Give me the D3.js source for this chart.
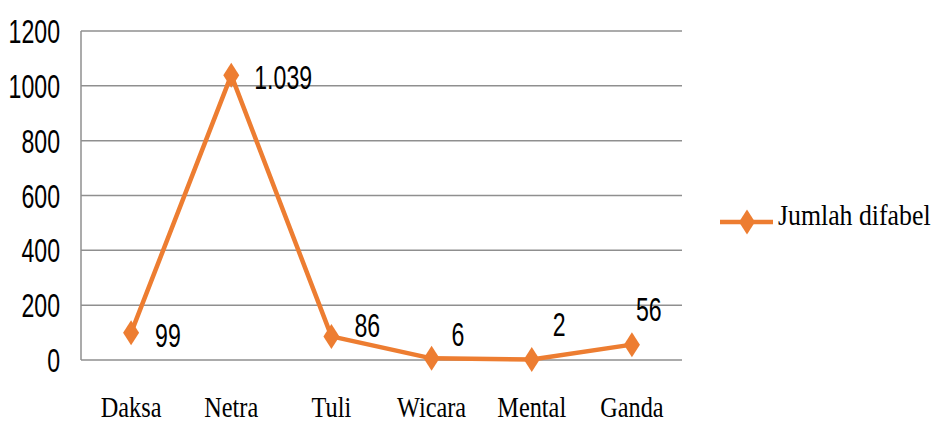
<!DOCTYPE html>
<html>
<head>
<meta charset="utf-8">
<script src="https://cdn.jsdelivr.net/npm/d3@7"></script>
<style>
  body { margin: 0; background: #fff; }
  svg { display: block; }
</style>
</head>
<body>
<script>
// data
let categories = ['Daksa', 'Netra', 'Tuli', 'Wicara', 'Mental', 'Ganda'];
let jumlahDifabel = [99, 1039, 86, 6, 2, 56];
let yTicks = [0, 200, 400, 600, 800, 1000, 1200];
let seriesName = 'Jumlah difabel';

// label nudges (dx, dy from the point), as placed by hand in the original
let labelNudge = [[24, 14], [23, 14], [23, 1], [20, -12], [21, -23], [4, -24]];

let frame = { width: 933, height: 423 };
let plot = { left: 81, right: 682, top: 31, bottom: 360 };
let orange = '#ED7D31';
let gridColor = '#8f8f8f';

let svg = d3.select('body')
	.append('svg')
	.attr('width', frame.width)
	.attr('height', frame.height);

let xScale = d3.scaleBand()
	.domain(categories)
	.range([plot.left, plot.right]);

let yScale = d3.scaleLinear()
	.domain([0, 1200])
	.range([plot.bottom, plot.top]);

let idFormat = d3.formatLocale({ decimal: ',', thousands: '.', grouping: [3], currency: ['Rp', ''] }).format(',');

// gridlines
svg.append('g')
	.selectAll('line')
	.data(yTicks)
	.enter()
	.append('line')
	.attr('x1', plot.left)
	.attr('x2', plot.right)
	.attr('y1', d => yScale(d))
	.attr('y2', d => yScale(d))
	.attr('stroke', gridColor)
	.attr('stroke-width', 1.5);

// left axis line
svg.append('line')
	.attr('x1', plot.left)
	.attr('x2', plot.left)
	.attr('y1', yScale(1200))
	.attr('y2', yScale(0))
	.attr('stroke', gridColor)
	.attr('stroke-width', 1.5);

// condensed text helper: group at anchor, scaled text inside
function addText(parent, x, y, str, opts) {
	let g = parent.append('g').attr('transform', `translate(${x}, ${y})`);
	g.append('text')
		.attr('transform', `scale(${opts.sx}, 1)`)
		.attr('text-anchor', opts.anchor || 'start')
		.attr('font-family', opts.family)
		.attr('font-size', opts.size)
		.attr('fill', '#000')
		.text(str);
	return g;
}

let sans = { family: '"Liberation Sans", Arial, sans-serif', size: 34, sx: 0.68 };
let serif = { family: '"Liberation Serif", "Times New Roman", serif', size: 30, sx: 0.81 };

// y tick labels
let yLabels = svg.append('g');
yTicks.forEach(t => addText(yLabels, 60, yScale(t) + 12, t, Object.assign({ anchor: 'end' }, sans)));

// x category labels
let xLabels = svg.append('g');
categories.forEach(c => addText(xLabels, xScale(c) + xScale.bandwidth() / 2, 417, c, Object.assign({ anchor: 'middle' }, serif)));

// series line
let cx = (d, i) => xScale(categories[i]) + xScale.bandwidth() / 2;
let line = d3.line()
	.x(cx)
	.y(d => yScale(d));

svg.append('path')
	.datum(jumlahDifabel)
	.attr('d', line)
	.attr('fill', 'none')
	.attr('stroke', orange)
	.attr('stroke-width', 4.5)
	.attr('stroke-linejoin', 'round');

// diamond marker
let diamond = (w, h) => `M0,${-h / 2}L${w / 2},0L0,${h / 2}L${-w / 2},0Z`;

svg.selectAll('.marker')
	.data(jumlahDifabel)
	.enter()
	.append('path')
	.attr('class', 'marker')
	.attr('transform', (d, i) => `translate(${cx(d, i)}, ${yScale(d)})`)
	.attr('d', diamond(16, 25))
	.attr('fill', orange);

// data labels
let dataLabels = svg.append('g');
jumlahDifabel.forEach((d, i) => {
	addText(dataLabels, cx(d, i) + labelNudge[i][0], yScale(d) + labelNudge[i][1], idFormat(d), sans);
});

// legend
let legend = svg.append('g').attr('transform', 'translate(720, 222)');
legend.append('line')
	.attr('x1', 0)
	.attr('x2', 53)
	.attr('stroke', orange)
	.attr('stroke-width', 4.5);
legend.append('path')
	.attr('transform', 'translate(27, 0)')
	.attr('d', diamond(16, 25))
	.attr('fill', orange);
addText(legend, 58, 3, seriesName, { family: serif.family, size: 30, sx: 0.86 });
</script>
</body>
</html>
